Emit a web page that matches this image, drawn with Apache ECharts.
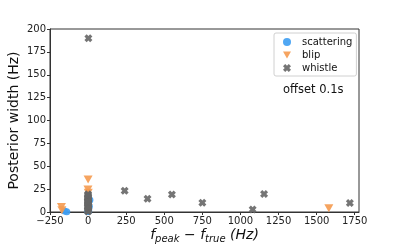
<!DOCTYPE html>
<html>
<head>
<meta charset="utf-8">
<script src="https://cdn.jsdelivr.net/npm/echarts@6/dist/echarts.min.js"></script>
<style>html,body{margin:0;padding:0;background:#fff}#c{width:399px;height:245px}</style>
</head>
<body>
<div id="c"></div>
<script>
// ---- data ----
const xTicks = [-250, 0, 250, 500, 750, 1000, 1250, 1500, 1750];
const yTicks = [0, 25, 50, 75, 100, 125, 150, 175, 200];
const scatteringX = [-140, -155, 12, 4, -2, 8];
const scatteringY = [0.3, 1.0, 13, 1, 0.5, 6];
const blipX = [-175, -172, 0, -1, 1, 1580];
const blipY = [5.5, 1.8, 35.5, 24.5, 21, 4.2];
const whistleX = [2, 240, 390, 550, 750, 1080, 1155, 1718,
  0, -1, 1, 0, 2, -2, 0, 1, -1, 0, 2, -1, 0, 1, 0, -2, 1, 0, -1, 0, 2, 0];
const whistleY = [190, 23.3, 14.5, 19.2, 10, 2.8, 19.7, 9.8,
  0.5, 1.5, 2.5, 3.5, 4.5, 5.5, 6.5, 7.5, 8.5, 9.5, 10.5, 11.5, 12.5, 13.5, 14.5, 15.5, 16.5, 17.5, 18.5, 19.5, 6, 11];

const pair = (xs, ys) => xs.map((x, i) => [x, ys[i]]);
const XMARK = 'path://M0.28,0 L0.5,0.22 L0.72,0 L1,0.28 L0.78,0.5 L1,0.72 L0.72,1 L0.5,0.78 L0.28,1 L0,0.72 L0.22,0.5 L0,0.28 Z';
const TRI = 'path://M0,0 L1,0 L0.5,0.85 Z';
const FONT = 'DejaVu Sans';

const chart = echarts.init(document.getElementById('c'), null, {renderer: 'canvas'});
chart.setOption({
  animation: false,
  backgroundColor: '#fff',
  textStyle: {fontFamily: FONT},
  grid: {left: 50, right: 40, top: 29, bottom: 33, show: true, borderColor: '#333', borderWidth: 1,
         containLabel: false, outerBoundsMode: 'none'},
  legend: {
    orient: 'vertical', left: 274, top: 33, padding: [4, 4, 3, 9],
    borderColor: '#d0d0d0', borderWidth: 1, borderRadius: 2,
    itemWidth: 8, itemHeight: 8, itemGap: 3,
    textStyle: {fontSize: 10, color: '#111', fontFamily: FONT, padding: [0, 0, 0, 6]},
    data: ['scattering', 'blip', 'whistle']
  },
  graphic: [{type: 'text', left: 283, top: 84, style: {text: 'offset 0.1s', font: '11.5px "DejaVu Sans"', fill: '#111'}}],
  xAxis: {
    type: 'value', min: -250, max: 1778, interval: 250,
    splitLine: {show: false},
    axisLine: {onZero: false, lineStyle: {color: '#333'}},
    axisTick: {show: true, length: 3, lineStyle: {color: '#333'}},
    axisLabel: {fontSize: 10, color: '#222', margin: 4, showMaxLabel: false,
      formatter: v => xTicks.includes(v) ? String(v).replace('-', '\u2212') : ''},
    name: '{i|f}{s|peak}{n| \u2212 }{i|f}{s|true}{n| }{i|(Hz)}',
    nameLocation: 'middle', nameGap: 14, nameMoveOverlap: false,
    nameTextStyle: {
      rich: {
        i: {fontSize: 14, fontStyle: 'italic', fontFamily: FONT, color: '#111'},
        n: {fontSize: 14, fontFamily: FONT, color: '#111'},
        s: {fontSize: 10, fontStyle: 'italic', fontFamily: FONT, color: '#111', padding: [8, 0, 0, 0]}
      }
    }
  },
  yAxis: {
    type: 'value', min: 0, max: 200, interval: 25,
    splitLine: {show: false},
    axisLine: {onZero: false, lineStyle: {color: '#333'}},
    axisTick: {show: true, length: 3, lineStyle: {color: '#333'}},
    axisLabel: {fontSize: 10, color: '#222', margin: 4,
      formatter: v => yTicks.includes(v) ? String(v) : ''},
    name: 'Posterior width (Hz)', nameLocation: 'middle', nameGap: 29, nameMoveOverlap: false,
    nameTextStyle: {fontSize: 14, color: '#111', fontFamily: FONT}
  },
  series: [
    {name: 'scattering', type: 'scatter', symbol: 'circle', symbolSize: 7, clip: false,
     itemStyle: {color: '#3d9df2', opacity: 0.9}, data: pair(scatteringX, scatteringY)},
    {name: 'blip', type: 'scatter', symbol: TRI, symbolSize: [9, 8], clip: false,
     itemStyle: {color: '#f59a4f', opacity: 0.9}, data: pair(blipX, blipY)},
    {name: 'whistle', type: 'scatter', symbol: XMARK, symbolSize: 8, clip: false,
     itemStyle: {color: '#666666', opacity: 0.9}, data: pair(whistleX, whistleY)}
  ]
});
</script>
</body>
</html>
